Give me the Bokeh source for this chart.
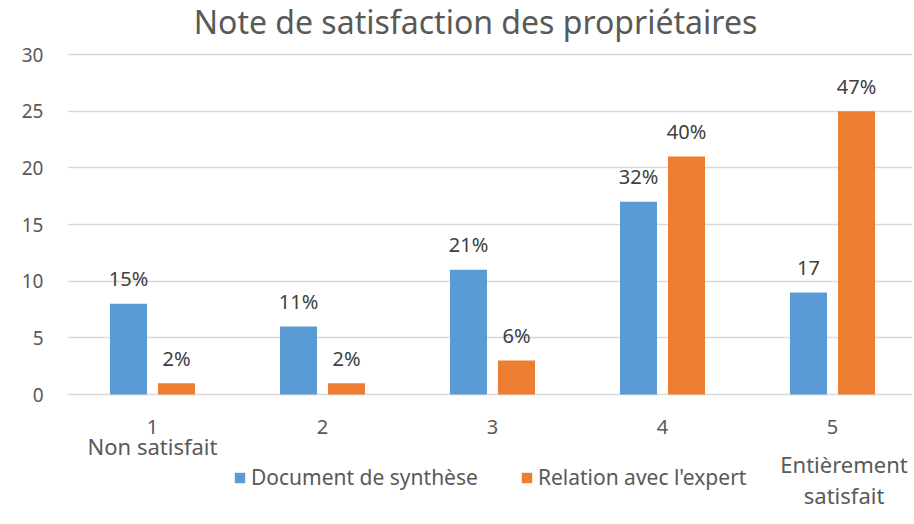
from bokeh.plotting import figure
from bokeh.models import ColumnDataSource, Range1d, Legend, LegendItem, Label, FixedTicker
from bokeh.embed import file_html
from bokeh.resources import INLINE
from bokeh.core.properties import value

# ---- data ----
categories = [1, 2, 3, 4, 5]
category_labels = ["1", "2", "3", "4", "5"]
doc_synthese = [8, 6, 11, 17, 9]
relation_expert = [1, 1, 3, 21, 25]
doc_labels = ["15%", "11%", "21%", "32%", "17"]
rel_labels = ["2%", "2%", "6%", "40%", "47%"]
series_names = ["Document de synthèse", "Relation avec l'expert"]
y_ticks = [0, 5, 10, 15, 20, 25, 30]
note_cat = [1, 5, 5]
note_text = ["Non satisfait", "Entièrement", "satisfait"]
title_text = "Note de satisfaction des propriétaires"

BLUE = "#5B9BD5"
ORANGE = "#ED7D31"
TXT = "#595959"
DTXT = "#404040"
FONT = "Noto Sans"

W, H = 912, 522
LEFT = 67
PX_PER_CAT = 170.0
PX_PER_UNIT = 340.0 / 30
ZERO_Y = 394.0  # page y of value 0

off = 24 / PX_PER_CAT
bw = 37 / PX_PER_CAT

y_top = ZERO_Y / PX_PER_UNIT
y_bot = -(H - ZERO_Y) / PX_PER_UNIT
x_end = 0.5 + (W - LEFT) / PX_PER_CAT

src = ColumnDataSource(dict(
    x1=[c - off for c in categories], x2=[c + off for c in categories],
    d=doc_synthese, r=relation_expert, dl=doc_labels, rl=rel_labels,
))
cat_src = ColumnDataSource(dict(x=categories, t=category_labels, y=[-2.87] * len(categories)))

p = figure(width=W, height=H, output_backend="svg", toolbar_location=None,
           x_range=Range1d(0.5, x_end), y_range=Range1d(y_bot, y_top),
           min_border_left=LEFT, min_border_right=0, min_border_top=0, min_border_bottom=0)
p.outline_line_color = None
p.background_fill_color = "white"
p.border_fill_color = "white"
p.xaxis.visible = False

r1 = p.vbar(x="x1", top="d", width=bw, source=src, fill_color=BLUE, line_color=None)
r2 = p.vbar(x="x2", top="r", width=bw, source=src, fill_color=ORANGE, line_color=None)

p.text(x="x1", y="d", text="dl", source=src, text_align="center", text_baseline="middle",
       y_offset=-25, text_font=value(FONT), text_font_size="20px", text_color=DTXT)
p.text(x="x2", y="r", text="rl", source=src, text_align="center", text_baseline="middle",
       y_offset=-25, text_font=value(FONT), text_font_size="20px", text_color=DTXT)

# category numbers under the bars
p.text(x="x", y="y", text="t", source=cat_src, text_align="center", text_baseline="middle",
       text_font=value(FONT), text_font_size="20px", text_color=TXT)

# sub-labels
note_pos = [(0.0, -4.55), (0.068, -6.1), (0.068, -8.9)]
for c, t, (dx, yy) in zip(note_cat, note_text, note_pos):
    p.add_layout(Label(x=c + dx, y=yy, text=t, text_align="center",
                       text_baseline="middle", text_font=FONT, text_font_size="22px",
                       text_color=TXT))

# title
p.add_layout(Label(x=0.5 + (475 - LEFT) / PX_PER_CAT, y=(ZERO_Y - 21) / PX_PER_UNIT,
                   text=title_text, text_align="center", text_baseline="middle",
                   text_font=FONT, text_font_size="32px", text_color=TXT))

p.yaxis.ticker = FixedTicker(ticks=y_ticks)
p.xgrid.grid_line_color = None
p.ygrid.grid_line_color = "#D9D9D9"
p.ygrid.grid_line_width = 1.5
p.yaxis.axis_line_color = None
p.yaxis.major_tick_line_color = None
p.yaxis.minor_tick_line_color = None
p.yaxis.major_tick_out = 0
p.yaxis.major_tick_in = 0
p.yaxis.major_label_text_font = FONT
p.yaxis.major_label_text_font_size = "19px"
p.yaxis.major_label_text_color = TXT
p.yaxis.major_label_standoff = 24

legend = Legend(items=[LegendItem(label=series_names[0], renderers=[r1]),
                       LegendItem(label=series_names[1], renderers=[r2])],
                orientation="horizontal", location=(166, 31), padding=0, margin=0,
                spacing=42, glyph_width=13, glyph_height=13, label_standoff=5,
                label_height=20,
                label_text_font=FONT, label_text_font_size="21px", label_text_color=TXT,
                background_fill_alpha=0, border_line_color=None)
p.add_layout(legend, "center")

open("out.html", "w").write(file_html(p, INLINE))
